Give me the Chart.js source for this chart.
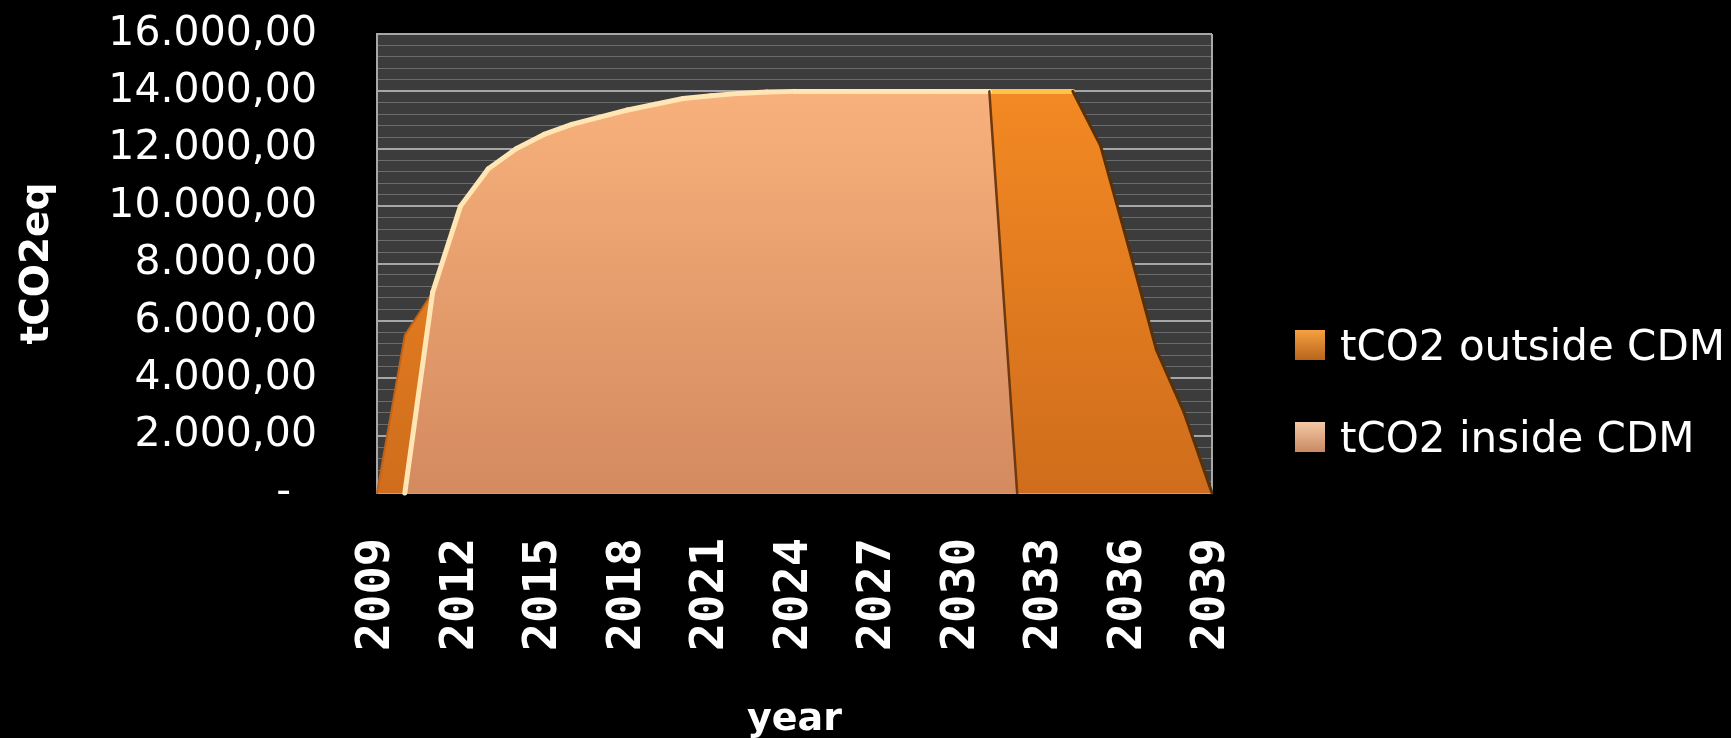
<!DOCTYPE html>
<html>
<head>
<meta charset="utf-8">
<script src="https://cdn.jsdelivr.net/npm/chart.js@4.4.1/dist/chart.umd.min.js"></script>
<style>
html,body{margin:0;padding:0;background:#000;}
canvas{display:block;}
</style>
</head>
<body>
<canvas id="chart" width="1731" height="738"></canvas>
<script>
// data
const years=[2009,2010,2011,2012,2013,2014,2015,2016,2017,2018,2019,2020,2021,2022,2023,2024,
  2025,2026,2027,2028,2029,2030,2031,2032,2033,2034,2035,2036,2037,2038,2039];
const insideCDM=[0,0,7000,10000,11300,12000,12500,12850,13100,13350,13550,13750,13850,13930,13980,
  14000,14000,14000,14000,14000,14000,14000,14000,0,0,0,0,0,0,0,0];
const outsideCDM=[0,5500,0,0,0,0,0,0,0,0,0,0,0,0,0,0,0,0,0,0,0,0,0,
  14000,14000,14000,12100,8600,5000,2800,0];
const seriesNames=['tCO2 inside CDM','tCO2 outside CDM'];
const legendOrder=[1,0];

// 16.000,00 style labels, dash for zero
function fmt(v){
  if(v===0)return '-  ';
  const p=v.toFixed(2).split('.');
  return p[0].replace(/\B(?=(\d{3})+(?!\d))/g,'.')+','+p[1];
}

function grad(chart,top,bottom){
  const a=chart.chartArea;
  if(!a)return bottom;
  const g=chart.ctx.createLinearGradient(0,a.top,0,a.bottom);
  g.addColorStop(0,top);g.addColorStop(1,bottom);
  return g;
}

const plotBg={
  id:'plotBg',
  beforeDraw(chart){
    const {ctx,chartArea:a}=chart;
    ctx.save();ctx.fillStyle='#3c3c3c';
    ctx.fillRect(a.left,a.top,a.right-a.left,a.bottom-a.top);
    ctx.restore();
  },
  afterDatasetsDraw(chart){
    const {ctx,chartArea:a}=chart;
    ctx.save();ctx.strokeStyle='#a8a8a8';ctx.lineWidth=2;
    ctx.beginPath();ctx.moveTo(a.right,a.top);ctx.lineTo(a.right,a.bottom);ctx.stroke();
    ctx.restore();
  }
};

// edge strokes on the area outlines: light on top, dark on the falling sides
const edges={
  id:'edges',
  afterDatasetsDraw(chart){
    const ctx=chart.ctx;
    const styles=[
      {raw:insideCDM,top:['#ffe6b4',5],down:['#6e3810',2.5]},
      {raw:outsideCDM,top:['#ffc24c',5],down:['#5a3006',3]}
    ];
    ctx.save();
    ctx.lineCap='round';
    [1,0].forEach(di=>{
      const pts=chart.getDatasetMeta(di).data;
      const s=styles[di];
      for(let i=0;i<pts.length-1;i++){
        if(s.raw[i]===0&&s.raw[i+1]===0)continue;
        const a=pts[i],b=pts[i+1];
        let st=b.y-a.y>3?s.down:s.top;
        if(di===1&&a.y-b.y>3)st=['#c0631a',2];
        ctx.strokeStyle=st[0];ctx.lineWidth=st[1];
        ctx.beginPath();ctx.moveTo(a.x,a.y);ctx.lineTo(b.x,b.y);ctx.stroke();
      }
    });
    ctx.restore();
  }
};

const sideLegend={
  id:'sideLegend',
  afterDraw(chart){
    const ctx=chart.ctx;
    const boxCols=[['#f4c9a6','#c98a62'],['#f7a040','#b8651c']];
    ctx.save();
    ctx.font='42px "DejaVu Sans"';
    ctx.textBaseline='alphabetic';
    legendOrder.forEach((di,i)=>{
      const y=330+i*92;
      const g=ctx.createLinearGradient(0,y,0,y+30);
      g.addColorStop(0,boxCols[di][0]);g.addColorStop(1,boxCols[di][1]);
      ctx.fillStyle=g;ctx.fillRect(1295,y,30,30);
      ctx.fillStyle='#fff';
      ctx.fillText(chart.data.datasets[di].label,1340,y+30);
    });
    ctx.restore();
  }
};

new Chart(document.getElementById('chart'),{
  type:'line',
  data:{
    labels:years,
    datasets:[
      {label:seriesNames[0],data:insideCDM,fill:'origin',pointRadius:0,borderWidth:0,
       borderColor:'rgba(0,0,0,0)',
       backgroundColor:c=>grad(c.chart,'#fdb680','#d48a5f')},
      {label:seriesNames[1],data:outsideCDM,fill:'-1',pointRadius:0,borderWidth:0,
       borderColor:'rgba(0,0,0,0)',
       backgroundColor:c=>grad(c.chart,'#f88d24','#cf6d1c')}
    ]
  },
  options:{
    responsive:false,
    animation:false,
    layout:{padding:{top:34,right:519,bottom:0,left:0}},
    plugins:{legend:{display:false},tooltip:{enabled:false}},
    scales:{
      x:{
        offset:false,
        grid:{display:false,drawTicks:false},
        border:{display:true,color:'#a8a8a8',width:2},
        ticks:{autoSkip:false,minRotation:90,maxRotation:90,padding:45,color:'#fff',
          font:{family:'"DejaVu Sans Mono"',size:47,weight:'bold'},
          callback:(v,i)=>i%3===0?String(years[i]):''},
        title:{display:true,text:'year',color:'#fff',padding:{top:0,bottom:-5},
          font:{family:'"DejaVu Sans"',size:38,weight:'bold'}},
        afterFit:s=>{s.height=245;}
      },
      y:{
        stacked:true,min:0,max:16000,
        grid:{drawTicks:true,tickLength:60,tickColor:'rgba(0,0,0,0)',
          color:c=>c.tick&&c.tick.value%2000===0?'#a6a6a6':'#6c6c6c',
          lineWidth:c=>c.tick&&c.tick.value%2000===0?2:1},
        border:{display:true,color:'#a8a8a8',width:2},
        ticks:{stepSize:400,autoSkip:false,padding:0,color:'#fff',
          font:{family:'"DejaVu Sans"',size:41},
          callback:v=>v%2000===0?fmt(v):''},
        title:{display:true,text:'tCO2eq',color:'#fff',padding:{top:14,bottom:0},
          font:{family:'"DejaVu Sans"',size:39,weight:'bold'}},
        afterFit:s=>{s.width=377;}
      }
    }
  },
  plugins:[plotBg,edges,sideLegend]
});
</script>
</body>
</html>
